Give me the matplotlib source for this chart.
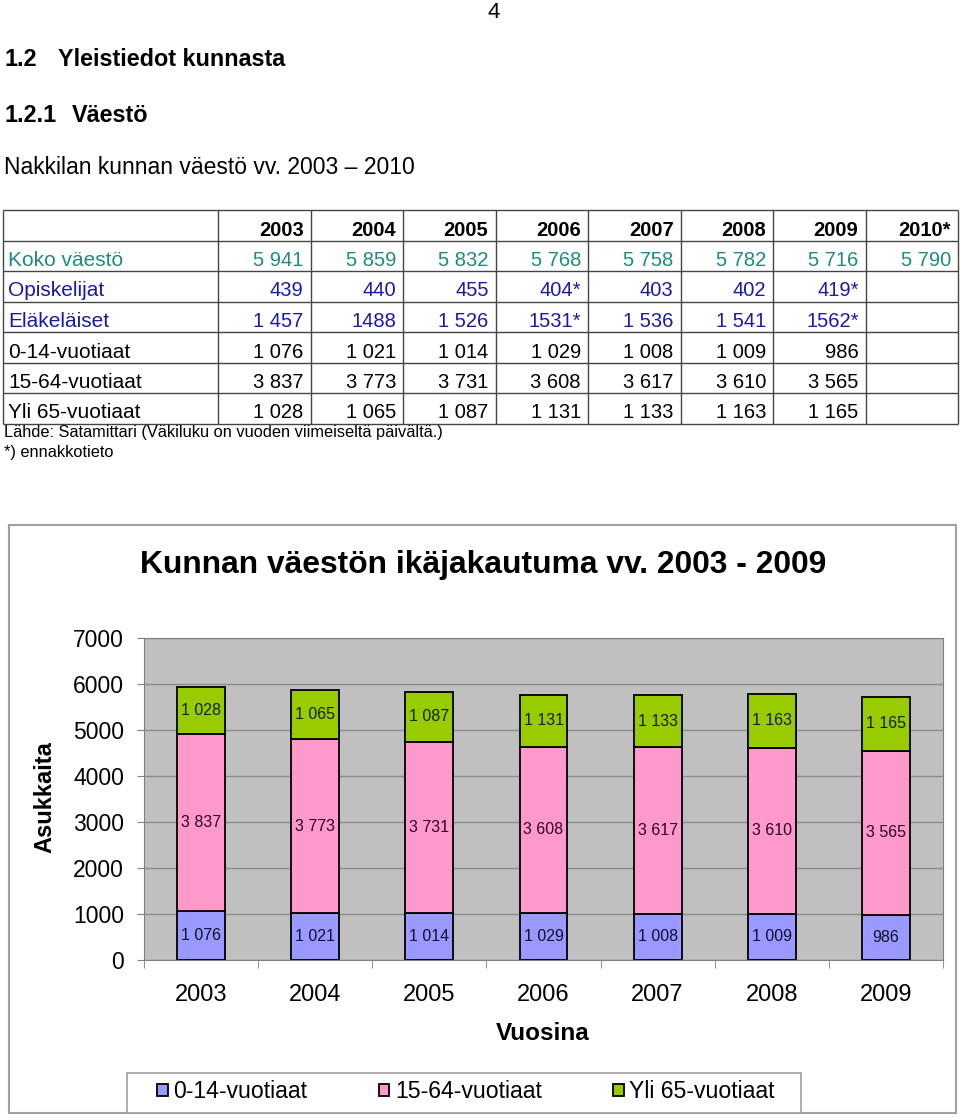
import matplotlib.pyplot as plt
from matplotlib.patches import Rectangle
import numpy as np

plt.rcParams['font.family'] = ['Liberation Sans', 'DejaVu Sans']

W, H = 960, 1118

# taulukon tiedot
tbl_years = ['2003', '2004', '2005', '2006', '2007', '2008', '2009', '2010*']
koko_vaesto = ['5 941', '5 859', '5 832', '5 768', '5 758', '5 782', '5 716', '5 790']
opiskelijat = ['439', '440', '455', '404*', '403', '402', '419*', '']
elakelaiset = ['1 457', '1488', '1 526', '1531*', '1 536', '1 541', '1562*', '']
row_labels = ['Koko väestö', 'Opiskelijat', 'Eläkeläiset',
              '0-14-vuotiaat', '15-64-vuotiaat', 'Yli 65-vuotiaat']

# kaavion tiedot
vuodet = ['2003', '2004', '2005', '2006', '2007', '2008', '2009']
ika_0_14 = [1076, 1021, 1014, 1029, 1008, 1009, 986]
ika_15_64 = [3837, 3773, 3731, 3608, 3617, 3610, 3565]
ika_yli65 = [1028, 1065, 1087, 1131, 1133, 1163, 1165]
series_names = ['0-14-vuotiaat', '15-64-vuotiaat', 'Yli 65-vuotiaat']
series_colors = ['#9999FF', '#FF99CC', '#99CC00']


def fi(v):
    return f'{v:,}'.replace(',', ' ')


fig = plt.figure(figsize=(W / 100, H / 100), dpi=100)
fig.patch.set_facecolor('white')

# koko sivu pikselikoordinaateissa
page = fig.add_axes([0, 0, 1, 1])
page.set_xlim(0, W)
page.set_ylim(H, 0)
page.axis('off')

page.text(494, 12, '4', fontsize=16, ha='center', va='center')
page.text(4, 60, '1.2', fontsize=16.8, fontweight='bold', va='center')
page.text(58, 60, 'Yleistiedot kunnasta', fontsize=16.8, fontweight='bold', va='center')
page.text(4, 115, '1.2.1', fontsize=16.8, fontweight='bold', va='center')
page.text(72, 115, 'Väestö', fontsize=16.8, fontweight='bold', va='center')
page.text(4, 168, 'Nakkilan kunnan väestö vv. 2003 – 2010', fontsize=16.5, va='center')

# taulukko
col_edges = [3] + [218 + 92.5 * i for i in range(9)]
row_edges = [210 + 30.5 * i for i in range(8)]
line_c = '#444444'
page.hlines(row_edges, col_edges[0], col_edges[-1], color=line_c, lw=1)
page.vlines(col_edges, row_edges[0], row_edges[-1], color=line_c, lw=1)

for j, y in enumerate(tbl_years):
    page.text(col_edges[j + 2] - 7, row_edges[1] - 5, y, fontsize=14.5,
              fontweight='bold', ha='right', va='baseline')

table_rows = [koko_vaesto, opiskelijat, elakelaiset,
              [fi(v) for v in ika_0_14] + [''],
              [fi(v) for v in ika_15_64] + [''],
              [fi(v) for v in ika_yli65] + ['']]
row_colors = ['#1f8a7e', '#1a1aaa', '#1a1aaa', 'black', 'black', 'black']

for i, (lab, vals) in enumerate(zip(row_labels, table_rows)):
    base = row_edges[i + 2] - 5
    page.text(8, base, lab, fontsize=15, color=row_colors[i], va='baseline')
    for j, v in enumerate(vals):
        page.text(col_edges[j + 2] - 7, base, v, fontsize=14.5,
                  color=row_colors[i], ha='right', va='baseline')

page.text(4, 432, 'Lähde: Satamittari (Väkiluku on vuoden viimeiseltä päivältä.)',
          fontsize=11.8, va='center')
page.text(4, 453, '*) ennakkotieto', fontsize=11.8, va='center')

# kaavion kehys
page.add_patch(Rectangle((9, 525), 947, 588, fill=False, ec='#a0a0a0', lw=1.5))
page.text(483, 565, 'Kunnan väestön ikäjakautuma vv. 2003 - 2009',
          fontsize=22.9, fontweight='bold', ha='center', va='center')

ax_l, ax_r, ax_t, ax_b = 144, 943, 638, 960
ax = fig.add_axes([ax_l / W, 1 - ax_b / H, (ax_r - ax_l) / W, (ax_b - ax_t) / H])
ax.set_facecolor('#C0C0C0')

x = np.arange(len(vuodet))
bottoms = np.zeros(len(vuodet))
bars = []
for vals, name, col in zip([ika_0_14, ika_15_64, ika_yli65], series_names, series_colors):
    b = ax.bar(x, vals, 0.42, bottom=bottoms, color=col, edgecolor='black',
               lw=1.3, label=name, zorder=3)
    bars.append(b)
    bottoms = bottoms + np.array(vals)

label_colors = ['#101030', '#300020', '#102000']
for b, vals, lc in zip(bars, [ika_0_14, ika_15_64, ika_yli65], label_colors):
    ax.bar_label(b, labels=[fi(v) for v in vals], label_type='center',
                 fontsize=11.5, color=lc, zorder=4)

ax.set_xlim(-0.5, len(vuodet) - 0.5)
ax.set_ylim(0, 7000)
ax.set_yticks(range(0, 7001, 1000))
ax.yaxis.grid(True, color='#8c8c8c', lw=1)
ax.set_axisbelow(True)
ax.set_xticks(x)
ax.set_xticklabels(vuodet)
ax.set_xticks(np.arange(-0.5, len(vuodet)), minor=True)
ax.tick_params(axis='x', which='major', length=0, labelsize=17, pad=17)
ax.tick_params(axis='x', which='minor', length=6, color='#808080')
ax.tick_params(axis='y', length=5, color='#808080', labelsize=16.5, pad=9.4)
for s in ax.spines.values():
    s.set_color('#808080')

fig.text(45 / W, 1 - 797 / H, 'Asukkaita', rotation=90, fontsize=17,
         fontweight='bold', ha='center', va='center')
fig.text(543 / W, 1 - 1034 / H, 'Vuosina', fontsize=17.5, fontweight='bold',
         ha='center', va='center')

# selite ja sen kehys
page.add_patch(Rectangle((127, 1073), 674, 40, fill=True, fc='white',
                         ec='#a0a0a0', lw=1.2))
leg = ax.legend(loc='center', bbox_to_anchor=(466 / W, 1 - 1092 / H),
                bbox_transform=fig.transFigure, ncol=3, frameon=False,
                fontsize=16.6, handlelength=0.45, handleheight=0.45,
                handletextpad=0.25, columnspacing=3.1, borderpad=0,
                borderaxespad=0)

fig.savefig('out.png', dpi=100, facecolor='white')
